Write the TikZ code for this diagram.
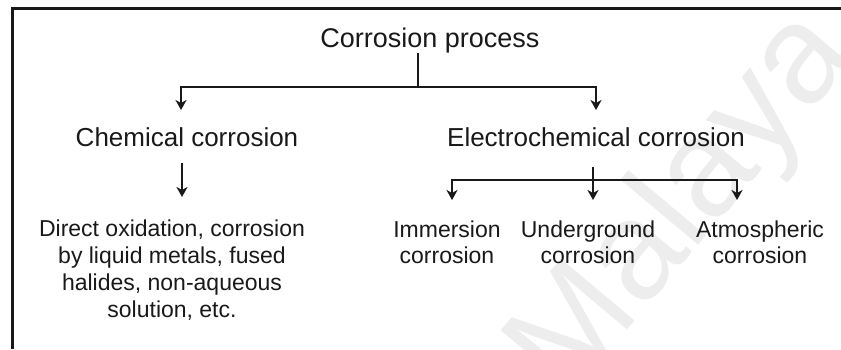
\documentclass[tikz,border=0pt]{standalone}
\usepackage{fontspec}
\setmainfont{Liberation Sans}
\usetikzlibrary{arrows.meta}
\begin{document}
\begin{tikzpicture}[x=1pt,y=-1pt,
  conn/.style={line width=1.8pt, black!90},
  arr/.style={conn, -{Stealth[length=10pt,width=11pt,inset=3pt]}},
  toptext/.style={font=\fontsize{27}{30}\selectfont, inner sep=0pt, text=black!90},
  midtext/.style={font=\fontsize{26}{30}\selectfont, inner sep=0pt, text=black!90},
  lowtext/.style={font=\fontsize{23}{26.7}\selectfont, align=center, inner sep=0pt, text=black!90},
  frame/.style={line width=2.6pt, black!90},
  watermark/.style={font=\fontsize{140}{140}\selectfont, text=black!7, inner sep=0pt}
]
\useasboundingbox (0,0) rectangle (841,349);
% faint watermark
\node[watermark, rotate=50] (wm) at (685,205) {Malaya};
% frame
\coordinate (fb) at (12.5,349);
\coordinate (fc) at (12.5,8.2);
\coordinate (fr) at (841,8.2);
\draw[frame] (fb) -- (fc) -- (fr);
% texts (base anchor = baseline of the last line)
\node[toptext, anchor=base] (cp) at (430,47) {Corrosion process};
\node[midtext, anchor=base] (chem) at (187,146) {Chemical corrosion};
\node[midtext, anchor=base] (elec) at (596,146) {Electrochemical corrosion};
\node[lowtext, anchor=base] (cdesc) at (172,317) {Direct oxidation, corrosion\\by liquid metals, fused\\halides, non-aqueous\\solution, etc.};
\node[lowtext, anchor=base] (imm) at (447,263.7) {Immersion\\corrosion};
\node[lowtext, anchor=base] (und) at (588,263.7) {Underground\\corrosion};
\node[lowtext, anchor=base] (atm) at (760,263.7) {Atmospheric\\corrosion};
% top split
\coordinate (j0) at (418,87);
\coordinate (t1) at (181,110);
\coordinate (t2) at (596,110);
\draw[conn] (cp.south -| j0) -- (j0);
\draw[arr] (j0) -| (t1);
\draw[arr] (j0) -| (t2);
% chemical
\coordinate (c1) at (182,163);
\coordinate (c2) at (182,197);
\draw[arr] (c1) -- (c2);
% electrochemical split
\coordinate (e0) at (593,167);
\coordinate (e1) at (593,180);
\coordinate (u1) at (452,200);
\coordinate (u2) at (593,200);
\coordinate (u3) at (737,200);
\draw[arr] (e1) -| (u1);
\draw[arr] (e0) -- (u2);
\draw[arr] (e1) -| (u3);
\end{tikzpicture}
\end{document}
